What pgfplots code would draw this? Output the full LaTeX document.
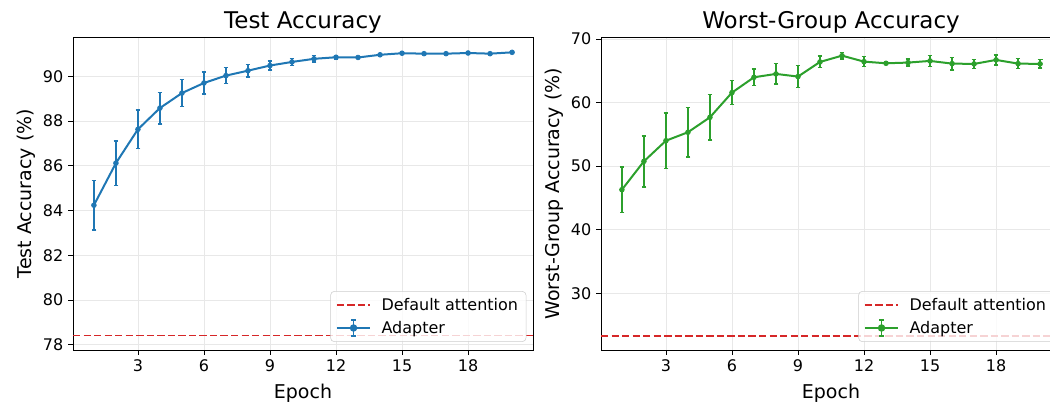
\documentclass[border=0pt]{standalone}
\usepackage{pgfplots}
\pgfplotsset{compat=1.18}
\usepackage{pgfplotstable}
\usepackage{fontspec}
\setmainfont{DejaVu Sans}
\definecolor{mblue}{HTML}{1F77B4}
\definecolor{mgreen}{HTML}{2CA02C}
\definecolor{mred}{HTML}{D62728}

\pgfplotstableread{
x y e
1 84.24 1.10
2 86.12 1.00
3 87.63 0.85
4 88.58 0.70
5 89.25 0.60
6 89.70 0.50
7 90.03 0.36
8 90.25 0.27
9 90.48 0.20
10 90.64 0.16
11 90.78 0.14
12 90.85 0.08
13 90.84 0.05
14 90.96 0.05
15 91.03 0.05
16 91.01 0.04
17 91.01 0.04
18 91.04 0.04
19 91.01 0.04
20 91.07 0.04
}\testacc

\pgfplotstableread{
x y e
1 46.30 3.60
2 50.76 4.00
3 54.00 4.35
4 55.33 3.90
5 57.68 3.56
6 61.56 1.90
7 63.97 1.27
8 64.50 1.63
9 64.08 1.73
10 66.38 0.90
11 67.37 0.52
12 66.43 0.79
13 66.17 0.20
14 66.28 0.52
15 66.54 0.87
16 66.12 0.97
17 66.07 0.70
18 66.70 0.79
19 66.12 0.79
20 66.07 0.68
}\worstacc

\pgfplotsset{
  myax/.style={
    scale only axis, width=345pt, height=234.5pt,
    xmin=0.05, xmax=20.95,
    xtick={3,6,9,12,15,18},
    tick align=outside, major tick length=3.75pt,
    tick style={black, line width=0.6pt},
    axis line style={line width=0.6pt},
    xtick pos=bottom, ytick pos=left,
    grid=major, grid style={color=black!9, line width=0.6pt},
    tick label style={font=\fontsize{12}{14}\selectfont},
    /pgf/number format/assume math mode=true,
    label style={font=\fontsize{14.25}{16}\selectfont},
    title style={font=\fontsize{17.25}{20}\selectfont, at={(axis description cs:0.5,1)}, anchor=base, yshift=0.75pt},
    xlabel style={at={([yshift=-32.8pt]axis description cs:0.5,0)}, anchor=center},
    ylabel style={at={([xshift=-35.25pt]axis description cs:0,0.5)}, anchor=center},
    legend cell align=left,
    legend style={at={([xshift=-5pt,yshift=6pt]axis description cs:1,0)}, anchor=south east,
      draw=black!20, rounded corners=3pt, fill=white, fill opacity=0.8, text opacity=1,
      font=\fontsize{12}{14}\selectfont, inner xsep=4pt, inner ysep=3pt, row sep=2.6pt,
      nodes={inner sep=2pt, text depth=0.15em},
      /tikz/every odd column/.append style={column sep=5.75pt}},
  },
  redline/.style={draw=mred, color=mred, draw opacity=1, line width=1.3pt, line cap=butt,
    dash pattern=on 5.5pt off 2.4pt, mark=none,
    legend image code/.code={\draw[draw=mred, line width=1.3pt, dash pattern=on 5.5pt off 2.4pt] (0pt,0pt) -- (25pt,0pt);}},
}

\begin{document}
\begin{tikzpicture}
\begin{axis}[myax, at={(54.75pt,42.75pt)}, anchor=south west,
  ymin=77.77, ymax=91.74, ytick={78,80,82,84,86,88,90},
  title={Test Accuracy}, xlabel={Epoch}, ylabel={Test Accuracy (\%)}]
\addplot[redline] coordinates {(0.05,78.42) (5,78.42) (10,78.42) (15,78.42) (20.95,78.42)};
\addlegendentry{Default attention}
\addplot[mblue, line width=1.5pt, mark=*, mark size=1.8pt, mark options={fill=mblue, draw=mblue, line width=0.5pt, solid},
  legend image code/.code={
      \draw[draw=mblue, line width=1.5pt] (0pt,0pt) -- (25pt,0pt);
      \draw[draw=mblue, line width=1.3pt] (12.5pt,-6.25pt) -- (12.5pt,6.25pt)
        (10.7pt,-6.25pt) -- (14.3pt,-6.25pt) (10.7pt,6.25pt) -- (14.3pt,6.25pt);
      \fill[mblue] (12.5pt,0pt) circle (2pt);},
  error bars/.cd, y dir=both, y explicit,
  error bar style={line width=1.2pt, mblue},
  error mark options={rotate=90, mark size=1.8pt, line width=1.2pt, mblue}]
  table[x=x, y=y, y error=e] {\testacc};
\addlegendentry{Adapter}
\end{axis}
\begin{axis}[myax, at={(450.75pt,42.75pt)}, anchor=south west,
  ymin=21.1, ymax=70.25, ytick={30,40,50,60,70},
  title={Worst-Group Accuracy}, xlabel={Epoch}, ylabel={Worst-Group Accuracy (\%)}]
\addplot[redline] coordinates {(0.05,23.33) (5,23.33) (10,23.33) (15,23.33) (20.95,23.33)};
\addlegendentry{Default attention}
\addplot[mgreen, line width=1.5pt, mark=*, mark size=1.8pt, mark options={fill=mgreen, draw=mgreen, line width=0.5pt, solid},
  legend image code/.code={
      \draw[draw=mgreen, line width=1.5pt] (0pt,0pt) -- (25pt,0pt);
      \draw[draw=mgreen, line width=1.3pt] (12.5pt,-6.25pt) -- (12.5pt,6.25pt)
        (10.7pt,-6.25pt) -- (14.3pt,-6.25pt) (10.7pt,6.25pt) -- (14.3pt,6.25pt);
      \fill[mgreen] (12.5pt,0pt) circle (2pt);},
  error bars/.cd, y dir=both, y explicit,
  error bar style={line width=1.2pt, mgreen},
  error mark options={rotate=90, mark size=1.8pt, line width=1.2pt, mgreen}]
  table[x=x, y=y, y error=e] {\worstacc};
\addlegendentry{Adapter}
\end{axis}
\pgfresetboundingbox
\useasboundingbox (0,0) rectangle (787.5pt,305.25pt);
\end{tikzpicture}
\end{document}
